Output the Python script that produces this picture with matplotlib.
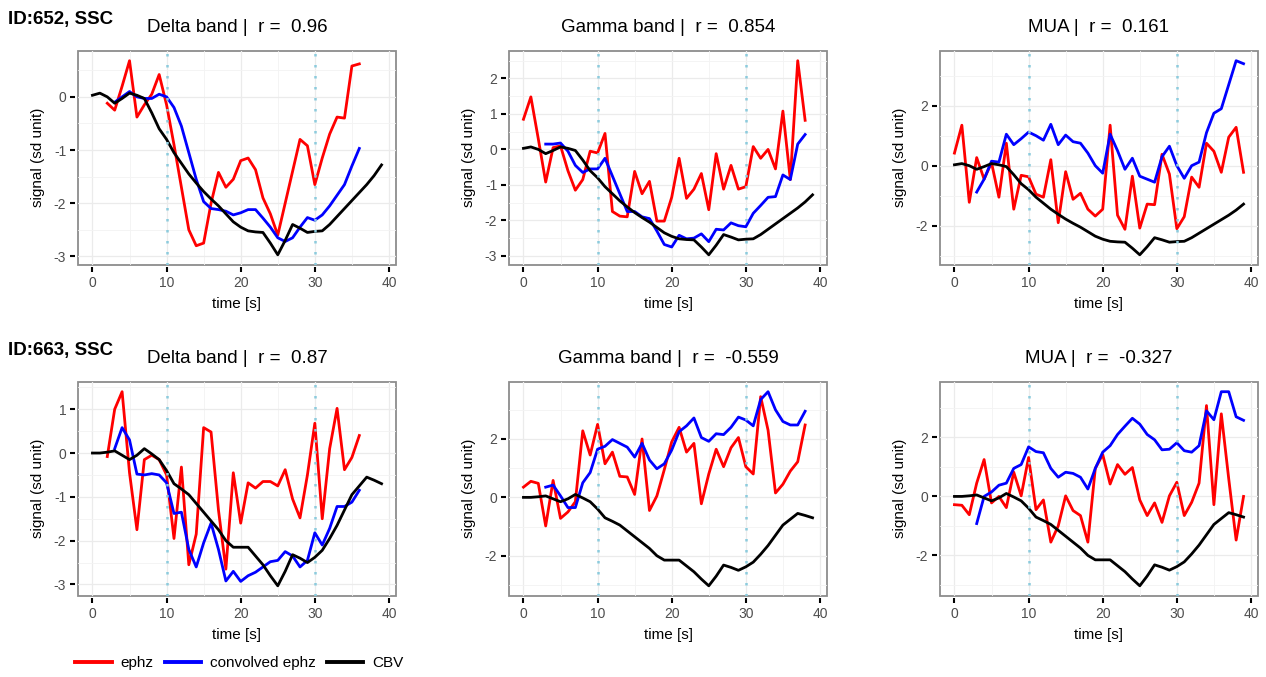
import numpy as np
import matplotlib
matplotlib.use("Agg")
import matplotlib.pyplot as plt
from matplotlib.ticker import MultipleLocator, AutoMinorLocator
from matplotlib.lines import Line2D

plt.rcParams['font.family'] = ['Liberation Sans', 'DejaVu Sans']
plt.rcParams['axes.unicode_minus'] = False

nan = np.nan
time = list(range(40))

# ID:652 row
cbv_652 = [0.03, 0.07, 0.0, -0.12, -0.03, 0.07, 0.03, -0.03, -0.3, -0.6,
           -0.8, -1.05, -1.25, -1.45, -1.62, -1.78, -1.92, -2.05, -2.2, -2.35,
           -2.45, -2.52, -2.54, -2.55, -2.75, -2.97, -2.7, -2.4, -2.47, -2.55,
           -2.53, -2.52, -2.4, -2.25, -2.1, -1.95, -1.8, -1.65, -1.48, -1.28]
delta_652 = [nan, nan, -0.12, -0.25, 0.2, 0.68, -0.38, -0.15, 0.05, 0.42,
             -0.15, -0.9, -1.7, -2.5, -2.8, -2.75, -2.0, -1.42, -1.7, -1.55,
             -1.2, -1.15, -1.37, -1.9, -2.2, -2.6, -2.0, -1.4, -0.8, -0.92,
             -1.65, -1.15, -0.7, -0.38, -0.4, 0.58, 0.62, nan, nan, nan]
delta_652_conv = [nan, nan, nan, -0.1, 0.0, 0.1, 0.0, -0.03, -0.03, 0.05,
                  0.0, -0.2, -0.55, -1.05, -1.55, -1.97, -2.1, -2.12, -2.15, -2.22,
                  -2.18, -2.12, -2.12, -2.28, -2.45, -2.65, -2.72, -2.65, -2.45, -2.27,
                  -2.32, -2.22, -2.05, -1.85, -1.65, -1.3, -0.97, nan, nan, nan]
gamma_652 = [0.85, 1.48, 0.3, -0.92, 0.05, 0.1, -0.6, -1.15, -0.85, -0.05,
             -0.1, 0.45, -1.75, -1.88, -1.9, -0.62, -1.25, -0.9, -2.02, -2.02,
             -1.35, -0.25, -1.38, -1.12, -0.68, -1.7, -0.12, -1.12, -0.45, -1.12,
             -1.05, 0.08, -0.25, 0.0, -0.55, 1.08, -0.85, 2.5, 0.82, nan]
gamma_652_conv = [nan, nan, nan, 0.15, 0.15, 0.18, -0.05, -0.45, -0.65, -0.55,
                  -0.55, -0.25, -0.75, -1.25, -1.75, -1.75, -1.9, -1.95, -2.3, -2.68,
                  -2.75, -2.42, -2.52, -2.5, -2.38, -2.6, -2.25, -2.27, -2.07, -2.15,
                  -2.18, -1.8, -1.58, -1.35, -1.33, -0.72, -0.85, 0.15, 0.42, nan]
mua_652 = [0.42, 1.35, -1.22, 0.27, -0.45, 0.1, -1.05, 0.75, -1.45, -0.32,
           -0.37, -0.95, -1.05, 0.2, -1.9, -0.2, -1.12, -0.92, -1.45, -1.68,
           -1.45, 1.35, -1.65, -2.12, -0.35, -2.08, -1.28, -1.3, 0.38, -0.28,
           -2.1, -1.7, -0.38, -0.72, 0.75, 0.48, -0.22, 0.95, 1.28, -0.22]
mua_652_conv = [nan, nan, nan, -0.88, -0.45, 0.15, 0.12, 1.05, 0.7, 0.9,
                1.12, 1.0, 0.85, 1.38, 0.7, 1.02, 0.8, 0.75, 0.42, 0.0,
                -0.25, 1.05, 0.5, -0.12, 0.25, -0.35, -0.45, -0.55, 0.3, 0.65,
                0.0, -0.42, 0.0, 0.12, 1.1, 1.75, 1.9, 2.7, 3.5, 3.4]

# ID:663 row
cbv_663 = [0.0, 0.0, 0.02, 0.05, -0.05, -0.15, -0.05, 0.1, -0.02, -0.15,
           -0.4, -0.7, -0.82, -0.95, -1.15, -1.35, -1.55, -1.75, -2.0, -2.15,
           -2.15, -2.15, -2.35, -2.55, -2.8, -3.03, -2.7, -2.32, -2.4, -2.5,
           -2.38, -2.22, -1.95, -1.65, -1.3, -0.95, -0.75, -0.55, -0.62, -0.7]
delta_663 = [nan, nan, -0.08, 1.0, 1.4, -0.45, -1.75, -0.15, -0.05, -0.15,
             -0.5, -1.95, -0.32, -2.55, -1.85, 0.58, 0.48, -1.3, -2.65, -0.45,
             -1.6, -0.68, -0.8, -0.65, -0.65, -0.75, -0.38, -1.05, -1.48, -0.5,
             0.68, -1.5, 0.1, 1.02, -0.38, -0.1, 0.4, nan, nan, nan]
delta_663_conv = [nan, nan, nan, 0.1, 0.58, 0.3, -0.48, -0.5, -0.47, -0.5,
                  -0.68, -1.38, -1.35, -2.2, -2.6, -2.05, -1.6, -2.2, -2.92, -2.7,
                  -2.93, -2.8, -2.72, -2.6, -2.48, -2.45, -2.25, -2.35, -2.6, -2.45,
                  -1.82, -2.1, -1.72, -1.22, -1.22, -1.12, -0.85, nan, nan, nan]
gamma_663 = [0.35, 0.55, 0.48, -0.98, 0.58, -0.72, -0.5, -0.15, 2.28, 1.45,
             2.5, 1.15, 1.55, 0.72, 0.7, 0.1, 2.0, -0.45, 0.05, 0.95,
             1.9, 2.4, 1.55, 1.85, -0.22, 0.8, 1.65, 1.05, 1.7, 2.05,
             1.05, 0.8, 3.45, 2.3, 0.15, 0.45, 0.9, 1.22, 2.48, nan]
gamma_663_conv = [nan, nan, nan, 0.35, 0.42, 0.05, -0.35, -0.35, 0.5, 0.85,
                  1.65, 1.75, 1.98, 1.85, 1.72, 1.38, 1.85, 1.28, 0.98, 1.15,
                  1.62, 2.25, 2.45, 2.72, 2.05, 1.92, 2.18, 2.15, 2.4, 2.75,
                  2.65, 2.45, 3.35, 3.62, 3.0, 2.6, 2.48, 2.48, 2.95, nan]
mua_663 = [-0.28, -0.3, -0.62, 0.45, 1.25, -0.22, 0.0, -0.38, 0.82, 0.02,
           1.32, -0.45, -0.12, -1.55, -1.0, 0.02, -0.48, -0.65, -1.55, 0.95,
           1.42, 0.42, 1.08, 0.75, 0.98, -0.12, -0.65, -0.22, -0.88, 0.02,
           0.48, -0.65, -0.2, 0.45, 3.08, -0.28, 2.8, 0.6, -1.48, 0.0]
mua_663_conv = [nan, nan, nan, -0.92, 0.0, 0.15, 0.38, 0.45, 0.95, 1.08,
                1.68, 1.52, 1.48, 0.95, 0.65, 0.82, 0.78, 0.65, 0.25, 0.95,
                1.5, 1.72, 2.1, 2.38, 2.65, 2.45, 2.1, 1.92, 1.58, 1.6,
                1.82, 1.55, 1.5, 1.72, 2.9, 2.6, 3.55, 3.55, 2.7, 2.58]

row_labels = ['ID:652, SSC', 'ID:663, SSC']
bands = ['Delta band', 'Gamma band', 'MUA']
r_values = [['0.96', '0.854', '0.161'], ['0.87', '-0.559', '-0.327']]
stim_times = [10, 30]

ephz = [[delta_652, gamma_652, mua_652], [delta_663, gamma_663, mua_663]]
conv = [[delta_652_conv, gamma_652_conv, mua_652_conv],
        [delta_663_conv, gamma_663_conv, mua_663_conv]]
cbv = [cbv_652, cbv_663]
y_step = [[1, 1, 2], [1, 2, 2]]

W, H = 1266, 677
col_left = [78, 509, 940]
row_top = [51, 382]
pw, ph = 318, 213.5

fig = plt.figure(figsize=(W / 100, H / 100), dpi=100)


def style_axis(ax, step):
    for s in ax.spines.values():
        s.set_visible(False)
    ax.spines['left'].set_position(('outward', 2))
    ax.spines['bottom'].set_position(('outward', 2))
    ax.patch.set_edgecolor('#8c8c8c')
    ax.patch.set_linewidth(1.3)
    ax.xaxis.set_major_locator(MultipleLocator(10))
    ax.yaxis.set_major_locator(MultipleLocator(step))
    ax.xaxis.set_minor_locator(AutoMinorLocator(2))
    ax.yaxis.set_minor_locator(AutoMinorLocator(2))
    ax.grid(True, which='major', color='#ebebeb', linewidth=0.9)
    ax.grid(True, which='minor', color='#f3f3f3', linewidth=0.6)
    ax.set_axisbelow(True)
    ax.tick_params(which='major', direction='out', length=3.5, width=1.5,
                   color='black', labelsize=10, labelcolor='#4d4d4d', pad=3)
    ax.tick_params(which='minor', length=0)


for i in range(2):
    for j in range(3):
        left = col_left[j] / W
        bottom = 1 - (row_top[i] + ph) / H
        ax = fig.add_axes([left, bottom, pw / W, ph / H])
        ax.plot(time, ephz[i][j], color='red', lw=2.0)
        ax.plot(time, conv[i][j], color='blue', lw=2.0)
        ax.plot(time, cbv[i], color='black', lw=2.0)
        for st in stim_times:
            ax.axvline(st, color='#8ccbdd', lw=1.8, ls=(0, (1.0, 3.4)), zorder=5)
        ax.margins(0.05)
        style_axis(ax, y_step[i][j])
        ax.set_title(bands[j] + ' |  r =  ' + r_values[i][j], fontsize=13.5, pad=14)
        ax.set_xlabel('time [s]', fontsize=11, labelpad=5)
        ax.set_ylabel('signal (sd unit)', fontsize=11, labelpad=6)
    fig.text(8 / W, 1 - (row_top[i] - 27) / H, row_labels[i], fontsize=13.5,
             fontweight='bold', ha='left', va='baseline')

handles = [Line2D([], [], color='red', lw=2.8),
           Line2D([], [], color='blue', lw=2.8),
           Line2D([], [], color='black', lw=2.8)]
fig.legend(handles, ['ephz', 'convolved ephz', 'CBV'], loc='center left',
           bbox_to_anchor=(75 / W, 1 - 663 / H), ncol=3, frameon=False,
           fontsize=11, handlelength=2.4, handletextpad=0.6, columnspacing=0.7,
           borderpad=0, borderaxespad=0)

fig.savefig('out.png', dpi=100)
